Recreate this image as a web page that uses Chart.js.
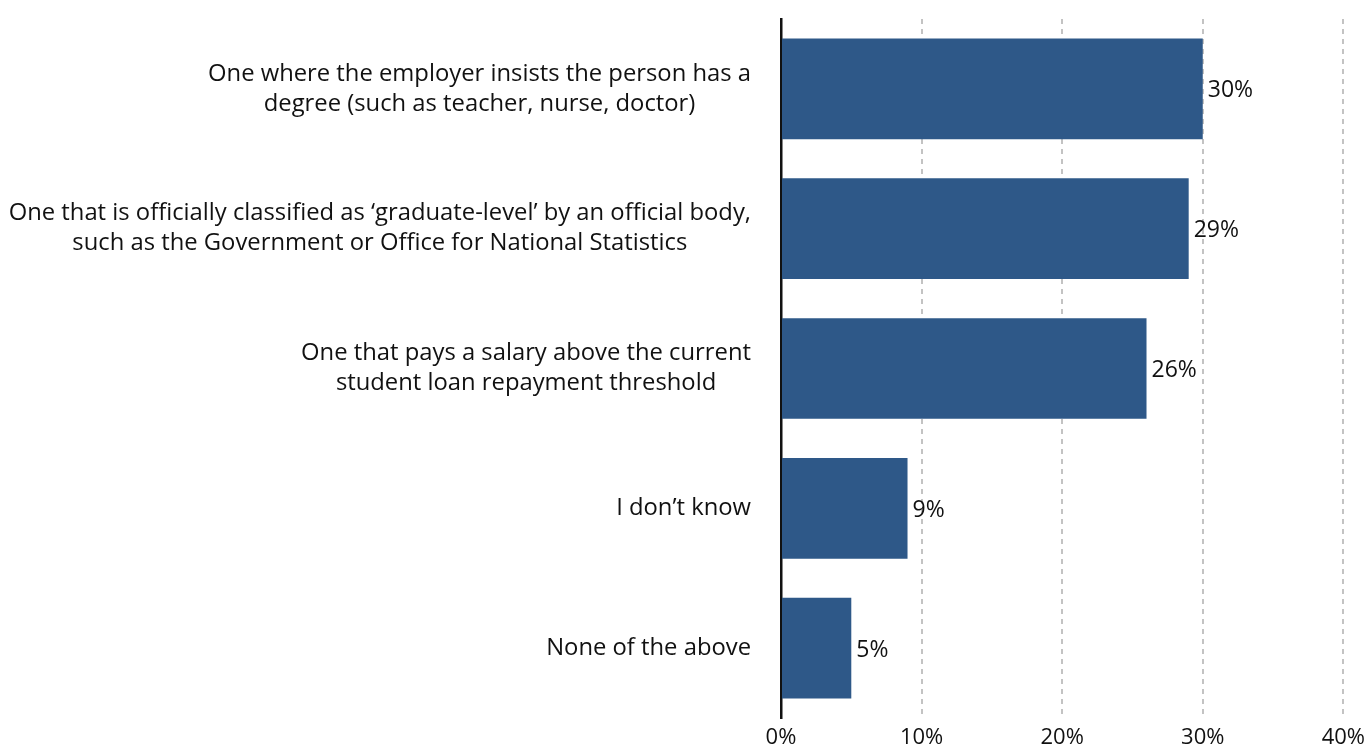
<!DOCTYPE html>
<html>
<head>
<meta charset="utf-8">
<title>Graduate job definitions</title>
<script src="https://cdn.jsdelivr.net/npm/chart.js@4.4.1/dist/chart.umd.min.js"></script>
<style>
  html, body { margin: 0; padding: 0; background: #fff; }
  #wrap { width: 1372px; height: 751px; position: relative; }
</style>
</head>
<body>
<div id="wrap"><canvas id="chart"></canvas></div>
<script>
// answer options, one array of lines per bar
const categories = [
    ['One where the employer insists the person has a', 'degree (such as teacher, nurse, doctor)'],
    ['One that is officially classified as \u2018graduate-level\u2019 by an official body,', 'such as the Government or Office for National Statistics'],
    ['One that pays a salary above the current', 'student loan repayment threshold'],
    ['I don\u2019t know'],
    ['None of the above']
];
const shares = [30, 29, 26, 9, 5];
const xTicks = [0, 10, 20, 30, 40];

const labelFont = '23.8px "Open Sans", sans-serif';
const barColor = '#2e5888';
const textColor = '#111111';

// centred multi-line category labels, right edge kept next to the axis
const categoryLabels = {
    id: 'categoryLabels',
    afterDraw(chart) {
        const ctx = chart.ctx;
        const yScale = chart.scales.y;
        const rightEdge = chart.chartArea.left - 30;
        const lineGap = 30;
        ctx.save();
        ctx.font = labelFont;
        ctx.fillStyle = textColor;
        ctx.textAlign = 'center';
        ctx.textBaseline = 'middle';
        categories.forEach((lines, i) => {
            const widest = Math.max(...lines.map(l => ctx.measureText(l).width));
            const cx = rightEdge - widest / 2;
            const cy = yScale.getPixelForTick(i);
            const y0 = cy - (lines.length - 1) * lineGap / 2;
            lines.forEach((line, j) => ctx.fillText(line, cx, y0 + j * lineGap));
        });
        ctx.restore();
    }
};

// percentage next to the end of each bar
const valueLabels = {
    id: 'valueLabels',
    afterDatasetsDraw(chart) {
        const ctx = chart.ctx;
        const meta = chart.getDatasetMeta(0);
        ctx.save();
        ctx.font = '23px "Open Sans", sans-serif';
        ctx.fillStyle = textColor;
        ctx.textAlign = 'left';
        ctx.textBaseline = 'middle';
        meta.data.forEach((bar, i) => {
            ctx.fillText(shares[i] + '%', bar.x + 5, bar.y + 2);
        });
        ctx.restore();
    }
};

new Chart(document.getElementById('chart'), {
    type: 'bar',
    data: {
        labels: categories.map(c => c.join(' ')),
        datasets: [{
            data: shares,
            backgroundColor: barColor,
            borderWidth: 0,
            categoryPercentage: 1,
            barPercentage: 0.72
        }]
    },
    options: {
        indexAxis: 'y',
        responsive: true,
        maintainAspectRatio: false,
        animation: false,
        layout: { padding: { top: 19, right: 26, bottom: 0, left: 0 } },
        plugins: {
            legend: { display: false },
            tooltip: { enabled: false }
        },
        scales: {
            x: {
                min: 0,
                max: 40,
                afterBuildTicks(scale) {
                    scale.ticks = xTicks.map(v => ({ value: v }));
                },
                afterFit(scale) { scale.height = 33; },
                ticks: {
                    padding: 7,
                    color: textColor,
                    font: { family: '"Open Sans", sans-serif', size: 22 },
                    callback: v => v + '%'
                },
                grid: {
                    drawTicks: false,
                    lineWidth: 2,
                    color: ctx => ctx.tick && ctx.tick.value === 0 ? 'rgba(0,0,0,0)' : '#c3c3c3'
                },
                border: { display: false, dash: [5, 5] }
            },
            y: {
                afterFit(scale) { scale.width = 781; },
                ticks: { display: false },
                grid: { display: false },
                border: { display: true, color: '#111111', width: 2.5 }
            }
        }
    },
    plugins: [categoryLabels, valueLabels]
});
</script>
</body>
</html>
